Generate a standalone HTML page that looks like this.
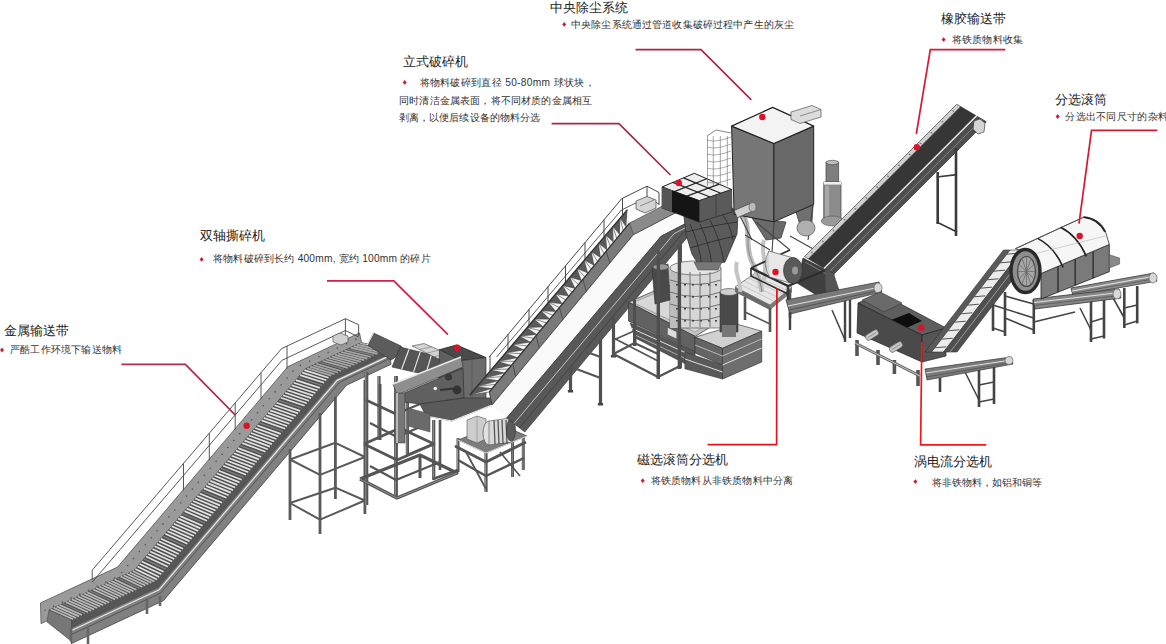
<!DOCTYPE html>
<html><head><meta charset="utf-8">
<style>
html,body{margin:0;padding:0;background:#fff;}
body{width:1166px;height:644px;overflow:hidden;position:relative;font-family:"Liberation Sans",sans-serif;}
svg{position:absolute;left:0;top:0;}
.t{font-size:13px;fill:#222;}
.s{font-size:10.2px;fill:#333;}
.b{fill:#c8203a;}
.ld{stroke-width:1.7;fill:none;}
</style></head><body>
<svg width="1166" height="644" viewBox="0 0 1166 644">
<g id="machines" stroke-linejoin="round">
<polygon points="40.5,602.9 117.5,567.1 287.9,366.6 359.5,332.9 361.5,342.5 305.5,368.8 120.2,586.8 41.0,623.6" fill="#9a9a9a" stroke="#555" stroke-width="0.8" />
<circle cx="45.1" cy="610.2" r="0.8" fill="#555"/>
<circle cx="53.7" cy="606.2" r="0.8" fill="#555"/>
<circle cx="62.4" cy="602.1" r="0.8" fill="#555"/>
<circle cx="71.1" cy="598.1" r="0.8" fill="#555"/>
<circle cx="79.7" cy="594.1" r="0.8" fill="#555"/>
<circle cx="88.4" cy="590.0" r="0.8" fill="#555"/>
<circle cx="97.1" cy="586.0" r="0.8" fill="#555"/>
<circle cx="105.7" cy="582.0" r="0.8" fill="#555"/>
<circle cx="114.4" cy="578.0" r="0.8" fill="#555"/>
<circle cx="121.7" cy="572.5" r="0.8" fill="#555"/>
<circle cx="127.6" cy="565.5" r="0.8" fill="#555"/>
<circle cx="133.5" cy="558.6" r="0.8" fill="#555"/>
<circle cx="139.4" cy="551.6" r="0.8" fill="#555"/>
<circle cx="145.3" cy="544.7" r="0.8" fill="#555"/>
<circle cx="151.2" cy="537.7" r="0.8" fill="#555"/>
<circle cx="157.1" cy="530.8" r="0.8" fill="#555"/>
<circle cx="163.0" cy="523.9" r="0.8" fill="#555"/>
<circle cx="168.9" cy="516.9" r="0.8" fill="#555"/>
<circle cx="174.8" cy="510.0" r="0.8" fill="#555"/>
<circle cx="180.7" cy="503.0" r="0.8" fill="#555"/>
<circle cx="186.6" cy="496.1" r="0.8" fill="#555"/>
<circle cx="192.5" cy="489.1" r="0.8" fill="#555"/>
<circle cx="198.4" cy="482.2" r="0.8" fill="#555"/>
<circle cx="204.3" cy="475.2" r="0.8" fill="#555"/>
<circle cx="210.2" cy="468.3" r="0.8" fill="#555"/>
<circle cx="216.1" cy="461.3" r="0.8" fill="#555"/>
<circle cx="222.0" cy="454.4" r="0.8" fill="#555"/>
<circle cx="227.9" cy="447.5" r="0.8" fill="#555"/>
<circle cx="233.8" cy="440.5" r="0.8" fill="#555"/>
<circle cx="239.7" cy="433.6" r="0.8" fill="#555"/>
<circle cx="245.6" cy="426.6" r="0.8" fill="#555"/>
<circle cx="251.6" cy="419.7" r="0.8" fill="#555"/>
<circle cx="257.5" cy="412.7" r="0.8" fill="#555"/>
<circle cx="263.4" cy="405.8" r="0.8" fill="#555"/>
<circle cx="269.3" cy="398.8" r="0.8" fill="#555"/>
<circle cx="275.2" cy="391.9" r="0.8" fill="#555"/>
<circle cx="281.1" cy="384.9" r="0.8" fill="#555"/>
<circle cx="287.0" cy="378.0" r="0.8" fill="#555"/>
<circle cx="292.9" cy="371.1" r="0.8" fill="#555"/>
<circle cx="300.4" cy="365.4" r="0.8" fill="#555"/>
<circle cx="309.7" cy="361.1" r="0.8" fill="#555"/>
<circle cx="318.9" cy="356.7" r="0.8" fill="#555"/>
<circle cx="328.1" cy="352.4" r="0.8" fill="#555"/>
<circle cx="337.3" cy="348.1" r="0.8" fill="#555"/>
<circle cx="346.6" cy="343.7" r="0.8" fill="#555"/>
<circle cx="355.8" cy="339.4" r="0.8" fill="#555"/>
<polygon points="49.0,609.9 134.3,570.3 305.5,368.8 361.5,342.5 389.0,348.5 329.6,376.4 155.9,580.7 71.5,620.0" fill="#4e4e4e" stroke="#444" stroke-width="0.6" />
<polygon points="71.5,620.0 155.9,580.7 329.6,376.4 389.0,348.5 391.0,364.3 346.6,385.2 163.4,600.7 71.5,643.5" fill="#808080" stroke="#444" stroke-width="0.8" />
<polygon points="71.5,620.0 155.9,580.7 329.6,376.4 389.0,348.5 389.7,354.0 335.5,379.5 158.5,587.7 71.5,628.2" fill="#565656" stroke="none" stroke-width="1" />
<polyline points="71.5,630.5 159.3,589.7 337.2,380.4 389.9,355.6" fill="none" stroke="#e8e8e8" stroke-width="1.2" />
<polyline points="71.5,634.5 160.5,593.1 340.1,381.9 390.2,358.3" fill="none" stroke="#444" stroke-width="0.7" />
<line x1="50.5" y1="609.2" x2="73.0" y2="619.3" stroke="#bcbcbc" stroke-width="1.7" />
<line x1="53.6" y1="607.8" x2="76.0" y2="617.9" stroke="#bcbcbc" stroke-width="1.7" />
<line x1="56.6" y1="606.4" x2="79.0" y2="616.4" stroke="#bcbcbc" stroke-width="1.7" />
<line x1="59.7" y1="605.0" x2="82.0" y2="615.0" stroke="#bcbcbc" stroke-width="1.7" />
<line x1="62.7" y1="603.5" x2="85.1" y2="613.6" stroke="#808080" stroke-width="1.3" />
<line x1="65.8" y1="602.1" x2="88.1" y2="612.2" stroke="#bcbcbc" stroke-width="1.7" />
<line x1="68.8" y1="600.7" x2="91.1" y2="610.8" stroke="#bcbcbc" stroke-width="1.7" />
<line x1="71.8" y1="599.3" x2="94.1" y2="609.4" stroke="#bcbcbc" stroke-width="1.7" />
<line x1="74.9" y1="597.9" x2="97.1" y2="608.0" stroke="#bcbcbc" stroke-width="1.7" />
<line x1="77.9" y1="596.5" x2="100.1" y2="606.6" stroke="#bcbcbc" stroke-width="1.7" />
<line x1="81.0" y1="595.0" x2="103.1" y2="605.2" stroke="#bcbcbc" stroke-width="1.7" />
<line x1="84.0" y1="593.6" x2="106.2" y2="603.8" stroke="#bcbcbc" stroke-width="1.7" />
<line x1="87.1" y1="592.2" x2="109.2" y2="602.4" stroke="#bcbcbc" stroke-width="1.7" />
<line x1="90.1" y1="590.8" x2="112.2" y2="601.0" stroke="#808080" stroke-width="1.3" />
<line x1="93.2" y1="589.4" x2="115.2" y2="599.6" stroke="#bcbcbc" stroke-width="1.7" />
<line x1="96.2" y1="588.0" x2="118.2" y2="598.2" stroke="#bcbcbc" stroke-width="1.7" />
<line x1="99.3" y1="586.5" x2="121.2" y2="596.8" stroke="#bcbcbc" stroke-width="1.7" />
<line x1="102.3" y1="585.1" x2="124.2" y2="595.4" stroke="#bcbcbc" stroke-width="1.7" />
<line x1="105.3" y1="583.7" x2="127.3" y2="594.0" stroke="#bcbcbc" stroke-width="1.7" />
<line x1="108.4" y1="582.3" x2="130.3" y2="592.6" stroke="#bcbcbc" stroke-width="1.7" />
<line x1="111.4" y1="580.9" x2="133.3" y2="591.2" stroke="#bcbcbc" stroke-width="1.7" />
<line x1="114.5" y1="579.5" x2="136.3" y2="589.8" stroke="#bcbcbc" stroke-width="1.7" />
<line x1="117.5" y1="578.0" x2="139.3" y2="588.4" stroke="#808080" stroke-width="1.3" />
<line x1="120.6" y1="576.6" x2="142.3" y2="587.0" stroke="#bcbcbc" stroke-width="1.7" />
<line x1="123.6" y1="575.2" x2="145.3" y2="585.6" stroke="#bcbcbc" stroke-width="1.7" />
<line x1="126.7" y1="573.8" x2="148.4" y2="584.2" stroke="#bcbcbc" stroke-width="1.7" />
<line x1="129.7" y1="572.4" x2="151.4" y2="582.8" stroke="#bcbcbc" stroke-width="1.7" />
<line x1="132.8" y1="571.0" x2="154.4" y2="581.4" stroke="#bcbcbc" stroke-width="1.7" />
<line x1="135.3" y1="569.0" x2="157.0" y2="579.4" stroke="#e2e2e2" stroke-width="1.7" />
<line x1="137.5" y1="566.5" x2="159.2" y2="576.9" stroke="#e2e2e2" stroke-width="1.7" />
<line x1="139.6" y1="564.0" x2="161.3" y2="574.3" stroke="#e2e2e2" stroke-width="1.7" />
<line x1="141.8" y1="561.4" x2="163.5" y2="571.8" stroke="#e2e2e2" stroke-width="1.7" />
<line x1="143.9" y1="558.9" x2="165.7" y2="569.2" stroke="#808080" stroke-width="1.3" />
<line x1="146.1" y1="556.4" x2="167.8" y2="566.7" stroke="#e2e2e2" stroke-width="1.7" />
<line x1="148.2" y1="553.9" x2="170.0" y2="564.1" stroke="#e2e2e2" stroke-width="1.7" />
<line x1="150.3" y1="551.4" x2="172.2" y2="561.6" stroke="#e2e2e2" stroke-width="1.7" />
<line x1="152.5" y1="548.9" x2="174.3" y2="559.0" stroke="#e2e2e2" stroke-width="1.7" />
<line x1="154.6" y1="546.3" x2="176.5" y2="556.4" stroke="#e2e2e2" stroke-width="1.7" />
<line x1="156.8" y1="543.8" x2="178.7" y2="553.9" stroke="#e2e2e2" stroke-width="1.7" />
<line x1="158.9" y1="541.3" x2="180.9" y2="551.3" stroke="#e2e2e2" stroke-width="1.7" />
<line x1="161.0" y1="538.8" x2="183.0" y2="548.8" stroke="#e2e2e2" stroke-width="1.7" />
<line x1="163.2" y1="536.3" x2="185.2" y2="546.2" stroke="#808080" stroke-width="1.3" />
<line x1="165.3" y1="533.7" x2="187.4" y2="543.7" stroke="#e2e2e2" stroke-width="1.7" />
<line x1="167.5" y1="531.2" x2="189.5" y2="541.1" stroke="#e2e2e2" stroke-width="1.7" />
<line x1="169.6" y1="528.7" x2="191.7" y2="538.6" stroke="#e2e2e2" stroke-width="1.7" />
<line x1="171.7" y1="526.2" x2="193.9" y2="536.0" stroke="#e2e2e2" stroke-width="1.7" />
<line x1="173.9" y1="523.7" x2="196.1" y2="533.5" stroke="#e2e2e2" stroke-width="1.7" />
<line x1="176.0" y1="521.2" x2="198.2" y2="530.9" stroke="#e2e2e2" stroke-width="1.7" />
<line x1="178.2" y1="518.6" x2="200.4" y2="528.4" stroke="#e2e2e2" stroke-width="1.7" />
<line x1="180.3" y1="516.1" x2="202.6" y2="525.8" stroke="#e2e2e2" stroke-width="1.7" />
<line x1="182.4" y1="513.6" x2="204.7" y2="523.2" stroke="#808080" stroke-width="1.3" />
<line x1="184.6" y1="511.1" x2="206.9" y2="520.7" stroke="#e2e2e2" stroke-width="1.7" />
<line x1="186.7" y1="508.6" x2="209.1" y2="518.1" stroke="#e2e2e2" stroke-width="1.7" />
<line x1="188.9" y1="506.0" x2="211.3" y2="515.6" stroke="#e2e2e2" stroke-width="1.7" />
<line x1="191.0" y1="503.5" x2="213.4" y2="513.0" stroke="#e2e2e2" stroke-width="1.7" />
<line x1="193.1" y1="501.0" x2="215.6" y2="510.5" stroke="#e2e2e2" stroke-width="1.7" />
<line x1="195.3" y1="498.5" x2="217.8" y2="507.9" stroke="#e2e2e2" stroke-width="1.7" />
<line x1="197.4" y1="496.0" x2="219.9" y2="505.4" stroke="#e2e2e2" stroke-width="1.7" />
<line x1="199.6" y1="493.5" x2="222.1" y2="502.8" stroke="#e2e2e2" stroke-width="1.7" />
<line x1="201.7" y1="490.9" x2="224.3" y2="500.3" stroke="#808080" stroke-width="1.3" />
<line x1="203.8" y1="488.4" x2="226.4" y2="497.7" stroke="#e2e2e2" stroke-width="1.7" />
<line x1="206.0" y1="485.9" x2="228.6" y2="495.2" stroke="#e2e2e2" stroke-width="1.7" />
<line x1="208.1" y1="483.4" x2="230.8" y2="492.6" stroke="#e2e2e2" stroke-width="1.7" />
<line x1="210.3" y1="480.9" x2="233.0" y2="490.1" stroke="#e2e2e2" stroke-width="1.7" />
<line x1="212.4" y1="478.3" x2="235.1" y2="487.5" stroke="#e2e2e2" stroke-width="1.7" />
<line x1="214.5" y1="475.8" x2="237.3" y2="484.9" stroke="#e2e2e2" stroke-width="1.7" />
<line x1="216.7" y1="473.3" x2="239.5" y2="482.4" stroke="#e2e2e2" stroke-width="1.7" />
<line x1="218.8" y1="470.8" x2="241.6" y2="479.8" stroke="#e2e2e2" stroke-width="1.7" />
<line x1="221.0" y1="468.3" x2="243.8" y2="477.3" stroke="#808080" stroke-width="1.3" />
<line x1="223.1" y1="465.8" x2="246.0" y2="474.7" stroke="#e2e2e2" stroke-width="1.7" />
<line x1="225.2" y1="463.2" x2="248.2" y2="472.2" stroke="#e2e2e2" stroke-width="1.7" />
<line x1="227.4" y1="460.7" x2="250.3" y2="469.6" stroke="#e2e2e2" stroke-width="1.7" />
<line x1="229.5" y1="458.2" x2="252.5" y2="467.1" stroke="#e2e2e2" stroke-width="1.7" />
<line x1="231.7" y1="455.7" x2="254.7" y2="464.5" stroke="#e2e2e2" stroke-width="1.7" />
<line x1="233.8" y1="453.2" x2="256.8" y2="462.0" stroke="#e2e2e2" stroke-width="1.7" />
<line x1="235.9" y1="450.6" x2="259.0" y2="459.4" stroke="#e2e2e2" stroke-width="1.7" />
<line x1="238.1" y1="448.1" x2="261.2" y2="456.9" stroke="#e2e2e2" stroke-width="1.7" />
<line x1="240.2" y1="445.6" x2="263.3" y2="454.3" stroke="#808080" stroke-width="1.3" />
<line x1="242.4" y1="443.1" x2="265.5" y2="451.7" stroke="#e2e2e2" stroke-width="1.7" />
<line x1="244.5" y1="440.6" x2="267.7" y2="449.2" stroke="#e2e2e2" stroke-width="1.7" />
<line x1="246.7" y1="438.1" x2="269.9" y2="446.6" stroke="#e2e2e2" stroke-width="1.7" />
<line x1="248.8" y1="435.5" x2="272.0" y2="444.1" stroke="#e2e2e2" stroke-width="1.7" />
<line x1="250.9" y1="433.0" x2="274.2" y2="441.5" stroke="#e2e2e2" stroke-width="1.7" />
<line x1="253.1" y1="430.5" x2="276.4" y2="439.0" stroke="#e2e2e2" stroke-width="1.7" />
<line x1="255.2" y1="428.0" x2="278.5" y2="436.4" stroke="#e2e2e2" stroke-width="1.7" />
<line x1="257.4" y1="425.5" x2="280.7" y2="433.9" stroke="#e2e2e2" stroke-width="1.7" />
<line x1="259.5" y1="422.9" x2="282.9" y2="431.3" stroke="#808080" stroke-width="1.3" />
<line x1="261.6" y1="420.4" x2="285.1" y2="428.8" stroke="#e2e2e2" stroke-width="1.7" />
<line x1="263.8" y1="417.9" x2="287.2" y2="426.2" stroke="#e2e2e2" stroke-width="1.7" />
<line x1="265.9" y1="415.4" x2="289.4" y2="423.7" stroke="#e2e2e2" stroke-width="1.7" />
<line x1="268.1" y1="412.9" x2="291.6" y2="421.1" stroke="#e2e2e2" stroke-width="1.7" />
<line x1="270.2" y1="410.4" x2="293.7" y2="418.5" stroke="#e2e2e2" stroke-width="1.7" />
<line x1="272.3" y1="407.8" x2="295.9" y2="416.0" stroke="#e2e2e2" stroke-width="1.7" />
<line x1="274.5" y1="405.3" x2="298.1" y2="413.4" stroke="#e2e2e2" stroke-width="1.7" />
<line x1="276.6" y1="402.8" x2="300.2" y2="410.9" stroke="#e2e2e2" stroke-width="1.7" />
<line x1="278.8" y1="400.3" x2="302.4" y2="408.3" stroke="#808080" stroke-width="1.3" />
<line x1="280.9" y1="397.8" x2="304.6" y2="405.8" stroke="#e2e2e2" stroke-width="1.7" />
<line x1="283.0" y1="395.2" x2="306.8" y2="403.2" stroke="#e2e2e2" stroke-width="1.7" />
<line x1="285.2" y1="392.7" x2="308.9" y2="400.7" stroke="#e2e2e2" stroke-width="1.7" />
<line x1="287.3" y1="390.2" x2="311.1" y2="398.1" stroke="#e2e2e2" stroke-width="1.7" />
<line x1="289.5" y1="387.7" x2="313.3" y2="395.6" stroke="#e2e2e2" stroke-width="1.7" />
<line x1="291.6" y1="385.2" x2="315.4" y2="393.0" stroke="#e2e2e2" stroke-width="1.7" />
<line x1="293.7" y1="382.7" x2="317.6" y2="390.5" stroke="#e2e2e2" stroke-width="1.7" />
<line x1="295.9" y1="380.1" x2="319.8" y2="387.9" stroke="#e2e2e2" stroke-width="1.7" />
<line x1="298.0" y1="377.6" x2="322.0" y2="385.3" stroke="#808080" stroke-width="1.3" />
<line x1="300.2" y1="375.1" x2="324.1" y2="382.8" stroke="#e2e2e2" stroke-width="1.7" />
<line x1="302.3" y1="372.6" x2="326.3" y2="380.2" stroke="#e2e2e2" stroke-width="1.7" />
<line x1="304.4" y1="370.1" x2="328.5" y2="377.7" stroke="#e2e2e2" stroke-width="1.7" />
<line x1="307.1" y1="368.1" x2="331.2" y2="375.6" stroke="#ababab" stroke-width="1.7" />
<line x1="310.2" y1="366.6" x2="334.5" y2="374.1" stroke="#ababab" stroke-width="1.7" />
<line x1="313.3" y1="365.2" x2="337.8" y2="372.5" stroke="#ababab" stroke-width="1.7" />
<line x1="316.4" y1="363.7" x2="341.1" y2="371.0" stroke="#ababab" stroke-width="1.7" />
<line x1="319.5" y1="362.2" x2="344.4" y2="369.4" stroke="#808080" stroke-width="1.3" />
<line x1="322.6" y1="360.8" x2="347.7" y2="367.9" stroke="#ababab" stroke-width="1.7" />
<line x1="325.7" y1="359.3" x2="351.0" y2="366.3" stroke="#ababab" stroke-width="1.7" />
<line x1="328.8" y1="357.8" x2="354.3" y2="364.8" stroke="#ababab" stroke-width="1.7" />
<line x1="332.0" y1="356.4" x2="357.6" y2="363.2" stroke="#ababab" stroke-width="1.7" />
<line x1="335.1" y1="354.9" x2="360.9" y2="361.7" stroke="#ababab" stroke-width="1.7" />
<line x1="338.2" y1="353.5" x2="364.2" y2="360.1" stroke="#ababab" stroke-width="1.7" />
<line x1="341.3" y1="352.0" x2="367.5" y2="358.6" stroke="#ababab" stroke-width="1.7" />
<line x1="344.4" y1="350.5" x2="370.8" y2="357.0" stroke="#ababab" stroke-width="1.7" />
<line x1="347.5" y1="349.1" x2="374.1" y2="355.5" stroke="#808080" stroke-width="1.3" />
<line x1="350.6" y1="347.6" x2="377.4" y2="353.9" stroke="#ababab" stroke-width="1.7" />
<line x1="353.7" y1="346.1" x2="380.7" y2="352.4" stroke="#ababab" stroke-width="1.7" />
<line x1="356.8" y1="344.7" x2="384.0" y2="350.8" stroke="#ababab" stroke-width="1.7" />
<line x1="359.9" y1="343.2" x2="387.3" y2="349.2" stroke="#ababab" stroke-width="1.7" />
<polygon points="49.0,609.9 71.5,620.0 71.5,643.5 70.5,640.5 47.0,621.9" fill="#777" stroke="#444" stroke-width="0.6" />
<polyline points="92.2,570.2 281.6,348.6 345.4,318.7 358.6,324.7 358.6,336.0" fill="none" stroke="#444" stroke-width="0.9" />
<polyline points="92.2,582.2 282.0,360.3 345.4,330.5 358.6,337.0" fill="none" stroke="#444" stroke-width="0.9" />
<line x1="92.2" y1="570.2" x2="92.2" y2="579.8" stroke="#444" stroke-width="0.9" />
<line x1="183.5" y1="463.4" x2="183.5" y2="490.4" stroke="#444" stroke-width="0.9" />
<line x1="209.3" y1="433.2" x2="209.3" y2="460.1" stroke="#444" stroke-width="0.9" />
<line x1="235.2" y1="402.9" x2="235.2" y2="429.6" stroke="#444" stroke-width="0.9" />
<line x1="261.0" y1="372.7" x2="261.0" y2="399.2" stroke="#444" stroke-width="0.9" />
<line x1="287.0" y1="346.1" x2="287.0" y2="368.6" stroke="#444" stroke-width="0.9" />
<line x1="345.4" y1="318.7" x2="345.4" y2="340.6" stroke="#444" stroke-width="0.9" />
<polygon points="333.0,336.0 340.0,333.0 348.0,336.0 348.0,342.0 341.0,345.0 333.0,342.0" fill="#d0d0d0" stroke="#444" stroke-width="0.6" />
<rect x="69.7" y="628" width="2.6" height="13" fill="#666"/>
<rect x="86.7" y="628" width="2.6" height="16" fill="#666"/>
<rect x="145.7" y="600" width="2.6" height="14" fill="#666"/>
<rect x="158.7" y="596" width="2.6" height="10" fill="#666"/>
<rect x="288.6" y="449" width="2.8" height="71" fill="#5a5a5a"/>
<rect x="318.6" y="413" width="2.8" height="121" fill="#5a5a5a"/>
<rect x="334.0" y="396.7" width="2.8" height="102.30000000000001" fill="#5a5a5a"/>
<rect x="363.5" y="380" width="2.8" height="134" fill="#5a5a5a"/>
<polyline points="290.0,459.5 320.0,474.9 364.9,457.0 335.4,442.8 290.0,459.5" fill="none" stroke="#5a5a5a" stroke-width="2" />
<polyline points="290.0,503.0 320.0,519.7 364.9,500.5 335.4,487.7 290.0,503.0" fill="none" stroke="#5a5a5a" stroke-width="2" />
<rect x="364.7" y="372" width="3.6" height="133" fill="#555"/>
<rect x="365.5" y="372" width="0.7" height="133" fill="#aaa"/>
<rect x="377.4" y="376" width="3.2" height="64" fill="#555"/>
<rect x="378.2" y="376" width="0.7" height="64" fill="#aaa"/>
<rect x="394.1" y="376" width="3.8" height="122" fill="#555"/>
<rect x="394.90000000000003" y="376" width="0.7" height="122" fill="#aaa"/>
<rect x="405.79999999999995" y="400" width="3.2" height="55" fill="#555"/>
<rect x="406.59999999999997" y="400" width="0.7" height="55" fill="#aaa"/>
<rect x="432.09999999999997" y="420" width="3.2" height="60" fill="#555"/>
<rect x="432.9" y="420" width="0.7" height="60" fill="#aaa"/>
<rect x="456.5" y="438" width="3" height="34" fill="#555"/>
<rect x="457.3" y="438" width="0.7" height="34" fill="#aaa"/>
<rect x="484.4" y="440" width="3.2" height="52" fill="#555"/>
<rect x="485.2" y="440" width="0.7" height="52" fill="#aaa"/>
<rect x="511.0" y="440" width="3" height="37" fill="#555"/>
<rect x="511.8" y="440" width="0.7" height="37" fill="#aaa"/>
<rect x="521.8" y="436" width="3" height="34" fill="#555"/>
<rect x="522.5999999999999" y="436" width="0.7" height="34" fill="#aaa"/>
<polyline points="360.0,479.0 397.0,498.0 457.0,473.0 420.0,455.0 360.0,479.0" fill="none" stroke="#555" stroke-width="3.2" />
<polyline points="360.0,479.0 397.0,498.0 457.0,473.0" fill="none" stroke="#bbb" stroke-width="0.6" />
<polyline points="364.0,444.0 397.0,460.0 434.0,444.0 400.0,428.0 364.0,444.0" fill="none" stroke="#555" stroke-width="2.8" />
<polyline points="370.0,423.0 397.0,437.0 420.0,427.0" fill="none" stroke="#555" stroke-width="2.4" />
<line x1="366.0" y1="400.0" x2="396.0" y2="414.0" stroke="#555" stroke-width="2.6" />
<line x1="396.0" y1="414.0" x2="420.0" y2="404.0" stroke="#555" stroke-width="2.4" />
<line x1="380.0" y1="384.0" x2="380.0" y2="440.0" stroke="#555" stroke-width="3" />
<line x1="407.0" y1="455.0" x2="433.0" y2="444.0" stroke="#555" stroke-width="2.4" />
<line x1="433.0" y1="479.0" x2="458.0" y2="470.0" stroke="#555" stroke-width="2.6" />
<line x1="420.0" y1="455.0" x2="420.0" y2="478.0" stroke="#555" stroke-width="3" />
<line x1="440.0" y1="420.0" x2="440.0" y2="470.0" stroke="#555" stroke-width="2.6" />
<line x1="370.0" y1="466.0" x2="396.0" y2="480.0" stroke="#555" stroke-width="2.2" />
<line x1="396.0" y1="480.0" x2="440.0" y2="462.0" stroke="#555" stroke-width="2.2" />
<polyline points="455.0,446.0 486.0,462.0 526.0,442.0" fill="none" stroke="#555" stroke-width="3" />
<polyline points="458.0,460.0 486.0,476.0 524.0,458.0" fill="none" stroke="#555" stroke-width="2.4" />
<line x1="466.0" y1="452.0" x2="486.0" y2="489.0" stroke="#555" stroke-width="1.8" />
<line x1="500.0" y1="452.0" x2="520.0" y2="476.0" stroke="#555" stroke-width="1.6" />
<polygon points="373.5,333.0 367.3,345.0 391.0,360.0 404.5,351.0 401.0,346.0" fill="#5c5c5c" stroke="#333" stroke-width="0.7" />
<line x1="373.5" y1="333.0" x2="367.3" y2="345.0" stroke="#eee" stroke-width="1" />
<polygon points="400.0,347.0 445.0,358.0 440.0,378.0 392.0,367.0" fill="#555" stroke="#333" stroke-width="0.6" />
<line x1="409.0" y1="349.2" x2="401.6" y2="369.2" stroke="#eee" stroke-width="1.1" />
<line x1="420.2" y1="351.9" x2="413.6" y2="371.9" stroke="#eee" stroke-width="1.1" />
<line x1="431.5" y1="354.7" x2="425.6" y2="374.7" stroke="#eee" stroke-width="1.1" />
<line x1="441.4" y1="357.1" x2="436.2" y2="377.1" stroke="#eee" stroke-width="1.1" />
<polygon points="412.0,346.0 424.0,343.5 462.0,360.0 449.0,364.0" fill="#d4d4d4" stroke="#444" stroke-width="0.6" />
<line x1="419.4" y1="349.6" x2="431.6" y2="346.8" stroke="#777" stroke-width="0.6" />
<line x1="426.8" y1="353.2" x2="439.2" y2="350.1" stroke="#777" stroke-width="0.6" />
<line x1="434.2" y1="356.8" x2="446.8" y2="353.4" stroke="#777" stroke-width="0.6" />
<line x1="441.6" y1="360.4" x2="454.4" y2="356.7" stroke="#777" stroke-width="0.6" />
<polygon points="439.4,349.7 456.5,345.0 486.0,357.5 461.2,360.6" fill="#4a4a4a" stroke="#222" stroke-width="0.8" />
<polygon points="439.4,349.7 461.2,360.6 461.2,406.0 439.4,398.0" fill="#606060" stroke="#333" stroke-width="0.7" />
<polygon points="461.2,360.6 486.0,357.5 486.0,399.4 461.2,406.0" fill="#6c6c6c" stroke="#333" stroke-width="0.7" />
<line x1="472.0" y1="359.0" x2="472.0" y2="403.0" stroke="#555" stroke-width="0.7" />
<polygon points="393.0,384.0 461.0,357.0 463.0,367.0 397.0,395.0" fill="#8e8e8e" stroke="#333" stroke-width="0.6" />
<line x1="393.0" y1="384.0" x2="461.0" y2="357.0" stroke="#ececec" stroke-width="1.4" />
<polygon points="402.0,394.0 463.0,368.0 464.0,398.0 420.0,404.0 404.0,402.0" fill="#606060" stroke="#333" stroke-width="0.7" />
<circle cx="448.5" cy="377" r="3.6" fill="#3a3a3a"/><circle cx="457" cy="390" r="4.4" fill="#333"/><circle cx="435.3" cy="388.5" r="1.8" fill="#eee"/>
<line x1="440.0" y1="390.0" x2="458.0" y2="388.0" stroke="#333" stroke-width="2" />
<rect x="395" y="393" width="10" height="50" fill="#767676" stroke="#333" stroke-width="0.5"/>
<rect x="396" y="393" width="2" height="50" fill="#bbb"/>
<polygon points="420.0,404.0 464.0,398.0 490.0,398.0 492.0,405.0 452.0,421.0 426.0,416.0" fill="#5a5a5a" stroke="#333" stroke-width="0.7" />
<line x1="426.0" y1="416.0" x2="452.0" y2="421.0" stroke="#eee" stroke-width="1.2" />
<line x1="452.0" y1="421.0" x2="492.0" y2="405.0" stroke="#eee" stroke-width="1.2" />
<polygon points="408.0,408.0 430.0,414.0 430.0,432.0 408.0,426.0" fill="#6a6a6a" stroke="#444" stroke-width="0.5" />
<polygon points="458.0,440.0 486.0,453.0 527.0,436.0 499.0,424.0" fill="#7c7c7c" stroke="#444" stroke-width="0.7" />
<line x1="458.0" y1="440.0" x2="486.0" y2="453.0" stroke="#ddd" stroke-width="1" />
<line x1="486.0" y1="453.0" x2="527.0" y2="436.0" stroke="#ddd" stroke-width="1" />
<polygon points="467.0,420.0 477.0,416.0 486.0,419.0 486.0,439.0 477.0,443.0 467.0,439.0" fill="#cdcdcd" stroke="#555" stroke-width="0.6" />
<line x1="477.0" y1="416.0" x2="477.0" y2="443.0" stroke="#888" stroke-width="0.6" />
<ellipse cx="489" cy="433" rx="6" ry="12" fill="#e0e0e0" stroke="#555" stroke-width="0.7"/>
<polygon points="489.0,421.0 510.0,418.0 512.0,442.0 489.0,445.0" fill="#d8d8d8" stroke="#555" stroke-width="0.6" />
<line x1="494.0" y1="420.0" x2="495.0" y2="444.0" stroke="#555" stroke-width="1.3" />
<line x1="498.0" y1="420.0" x2="499.0" y2="444.0" stroke="#555" stroke-width="1.3" />
<line x1="502.0" y1="420.0" x2="503.0" y2="444.0" stroke="#555" stroke-width="1.3" />
<line x1="506.0" y1="420.0" x2="507.0" y2="444.0" stroke="#555" stroke-width="1.3" />
<ellipse cx="511" cy="430" rx="4.5" ry="11" fill="#5a5a5a" stroke="#333" stroke-width="0.6"/>
<polygon points="489.3,392.0 629.5,223.1 685.0,207.8 633.5,234.6 492.1,405.0" fill="#7a7a7a" stroke="#333" stroke-width="0.9" />
<polygon points="492.1,405.0 633.5,234.6 685.0,207.8 690.0,221.3 661.2,236.2 506.7,418.0" fill="#fafafa" stroke="none" stroke-width="1" />
<polyline points="492.1,405.0 633.5,234.6 685.0,207.8" fill="none" stroke="#444" stroke-width="0.8" />
<polyline points="506.7,418.0 661.2,236.2 690.0,221.3" fill="none" stroke="#444" stroke-width="0.8" />
<polygon points="506.7,418.0 661.2,236.2 690.0,221.3 698.0,227.5 693.7,229.7 524.8,432.0" fill="#585858" stroke="#333" stroke-width="0.6" />
<polyline points="513.9,423.6 674.2,233.6 693.2,223.7" fill="none" stroke="#cfcfcf" stroke-width="0.9" />
<polyline points="519.4,427.8 683.9,231.7 695.6,225.6" fill="none" stroke="#333" stroke-width="0.6" />
<polygon points="629.5,223.1 674.0,200.0 685.0,207.8 633.5,234.6" fill="#8a8a8a" stroke="#444" stroke-width="0.6" />
<polygon points="469.8,395.0 627.4,209.6 629.5,223.1 489.3,392.0" fill="#f4f4f4" stroke="none" stroke-width="1" />
<polygon points="469.8,395.0 476.9,386.6 492.5,388.2" fill="#5a5a5a" stroke="none" stroke-width="1" />
<polygon points="489.3,392.0 492.5,388.2 469.8,395.0" fill="none" stroke="#444" stroke-width="0.6" />
<polygon points="476.9,386.6 484.1,378.1 498.9,380.5" fill="#5a5a5a" stroke="none" stroke-width="1" />
<polygon points="495.7,384.3 498.9,380.5 476.9,386.6" fill="none" stroke="#444" stroke-width="0.6" />
<polygon points="484.1,378.1 491.2,369.7 505.3,372.8" fill="#5a5a5a" stroke="none" stroke-width="1" />
<polygon points="502.1,376.6 505.3,372.8 484.1,378.1" fill="none" stroke="#444" stroke-width="0.6" />
<polygon points="491.2,369.7 498.4,361.3 511.6,365.1" fill="#5a5a5a" stroke="none" stroke-width="1" />
<polygon points="508.5,369.0 511.6,365.1 491.2,369.7" fill="none" stroke="#444" stroke-width="0.6" />
<polygon points="498.4,361.3 505.6,352.9 518.0,357.5" fill="#5a5a5a" stroke="none" stroke-width="1" />
<polygon points="514.8,361.3 518.0,357.5 498.4,361.3" fill="none" stroke="#444" stroke-width="0.6" />
<polygon points="505.6,352.9 512.7,344.4 524.4,349.8" fill="#5a5a5a" stroke="none" stroke-width="1" />
<polygon points="521.2,353.6 524.4,349.8 505.6,352.9" fill="none" stroke="#444" stroke-width="0.6" />
<polygon points="512.7,344.4 519.9,336.0 530.7,342.1" fill="#5a5a5a" stroke="none" stroke-width="1" />
<polygon points="527.6,345.9 530.7,342.1 512.7,344.4" fill="none" stroke="#444" stroke-width="0.6" />
<polygon points="519.9,336.0 527.1,327.6 537.1,334.4" fill="#5a5a5a" stroke="none" stroke-width="1" />
<polygon points="533.9,338.3 537.1,334.4 519.9,336.0" fill="none" stroke="#444" stroke-width="0.6" />
<polygon points="527.1,327.6 534.2,319.1 543.5,326.8" fill="#5a5a5a" stroke="none" stroke-width="1" />
<polygon points="540.3,330.6 543.5,326.8 527.1,327.6" fill="none" stroke="#444" stroke-width="0.6" />
<polygon points="534.2,319.1 541.4,310.7 549.9,319.1" fill="#5a5a5a" stroke="none" stroke-width="1" />
<polygon points="546.7,322.9 549.9,319.1 534.2,319.1" fill="none" stroke="#444" stroke-width="0.6" />
<polygon points="541.4,310.7 548.6,302.3 556.2,311.4" fill="#5a5a5a" stroke="none" stroke-width="1" />
<polygon points="553.0,315.2 556.2,311.4 541.4,310.7" fill="none" stroke="#444" stroke-width="0.6" />
<polygon points="548.6,302.3 555.7,293.9 562.6,303.7" fill="#5a5a5a" stroke="none" stroke-width="1" />
<polygon points="559.4,307.6 562.6,303.7 548.6,302.3" fill="none" stroke="#444" stroke-width="0.6" />
<polygon points="555.7,293.9 562.9,285.4 569.0,296.1" fill="#5a5a5a" stroke="none" stroke-width="1" />
<polygon points="565.8,299.9 569.0,296.1 555.7,293.9" fill="none" stroke="#444" stroke-width="0.6" />
<polygon points="562.9,285.4 570.1,277.0 575.3,288.4" fill="#5a5a5a" stroke="none" stroke-width="1" />
<polygon points="572.2,292.2 575.3,288.4 562.9,285.4" fill="none" stroke="#444" stroke-width="0.6" />
<polygon points="570.1,277.0 577.2,268.6 581.7,280.7" fill="#5a5a5a" stroke="none" stroke-width="1" />
<polygon points="578.5,284.5 581.7,280.7 570.1,277.0" fill="none" stroke="#444" stroke-width="0.6" />
<polygon points="577.2,268.6 584.4,260.1 588.1,273.0" fill="#5a5a5a" stroke="none" stroke-width="1" />
<polygon points="584.9,276.9 588.1,273.0 577.2,268.6" fill="none" stroke="#444" stroke-width="0.6" />
<polygon points="584.4,260.1 591.5,251.7 594.5,265.4" fill="#5a5a5a" stroke="none" stroke-width="1" />
<polygon points="591.3,269.2 594.5,265.4 584.4,260.1" fill="none" stroke="#444" stroke-width="0.6" />
<polygon points="591.5,251.7 598.7,243.3 600.8,257.7" fill="#5a5a5a" stroke="none" stroke-width="1" />
<polygon points="597.6,261.5 600.8,257.7 591.5,251.7" fill="none" stroke="#444" stroke-width="0.6" />
<polygon points="598.7,243.3 605.9,234.9 607.2,250.0" fill="#5a5a5a" stroke="none" stroke-width="1" />
<polygon points="604.0,253.8 607.2,250.0 598.7,243.3" fill="none" stroke="#444" stroke-width="0.6" />
<polygon points="605.9,234.9 613.0,226.4 613.6,242.3" fill="#5a5a5a" stroke="none" stroke-width="1" />
<polygon points="610.4,246.2 613.6,242.3 605.9,234.9" fill="none" stroke="#444" stroke-width="0.6" />
<polygon points="613.0,226.4 620.2,218.0 619.9,234.7" fill="#5a5a5a" stroke="none" stroke-width="1" />
<polygon points="616.7,238.5 619.9,234.7 613.0,226.4" fill="none" stroke="#444" stroke-width="0.6" />
<polygon points="620.2,218.0 627.4,209.6 626.3,227.0" fill="#5a5a5a" stroke="none" stroke-width="1" />
<polygon points="623.1,230.8 626.3,227.0 620.2,218.0" fill="none" stroke="#444" stroke-width="0.6" />
<polyline points="469.8,395.0 627.4,209.6" fill="none" stroke="#333" stroke-width="1.4" />
<polyline points="489.3,392.0 629.5,223.1" fill="none" stroke="#333" stroke-width="1.2" />
<line x1="512.7" y1="363.9" x2="515.6" y2="376.6" stroke="#444" stroke-width="0.8" />
<line x1="536.1" y1="335.7" x2="539.2" y2="348.2" stroke="#444" stroke-width="0.8" />
<line x1="559.4" y1="307.6" x2="562.8" y2="319.8" stroke="#444" stroke-width="0.8" />
<line x1="582.8" y1="279.4" x2="586.3" y2="291.4" stroke="#444" stroke-width="0.8" />
<line x1="606.1" y1="251.3" x2="609.9" y2="263.0" stroke="#444" stroke-width="0.8" />
<polyline points="489.2,357.0 621.8,198.6 647.0,186.2 659.0,192.5 659.0,205.0" fill="none" stroke="#333" stroke-width="0.9" />
<polyline points="496.6,357.0 621.5,210.0 647.0,197.5 659.0,204.0" fill="none" stroke="#333" stroke-width="0.8" />
<line x1="490.0" y1="356.0" x2="490.0" y2="371.2" stroke="#333" stroke-width="0.9" />
<line x1="508.0" y1="334.5" x2="508.0" y2="350.0" stroke="#333" stroke-width="0.9" />
<line x1="529.0" y1="309.4" x2="529.0" y2="325.3" stroke="#333" stroke-width="0.9" />
<line x1="548.0" y1="286.7" x2="548.0" y2="302.9" stroke="#333" stroke-width="0.9" />
<line x1="565.5" y1="265.8" x2="565.5" y2="282.4" stroke="#333" stroke-width="0.9" />
<line x1="585.0" y1="242.5" x2="585.0" y2="259.4" stroke="#333" stroke-width="0.9" />
<line x1="604.0" y1="219.8" x2="604.0" y2="237.1" stroke="#333" stroke-width="0.9" />
<line x1="622.5" y1="198.2" x2="622.5" y2="215.3" stroke="#333" stroke-width="0.9" />
<line x1="647.0" y1="186.2" x2="647.0" y2="200.2" stroke="#333" stroke-width="0.9" />
<polygon points="636.0,201.0 647.0,196.5 656.0,200.0 656.0,208.0 645.0,213.0 636.0,209.0" fill="#d4d4d4" stroke="#444" stroke-width="0.7" />
<line x1="640.0" y1="206.0" x2="654.0" y2="200.0" stroke="#777" stroke-width="0.8" />
<rect x="568.9" y="366" width="3.2" height="26" fill="#505050"/>
<rect x="567.9" y="390" width="5.2" height="2.5" fill="#444"/>
<rect x="598.9" y="340" width="3.2" height="65" fill="#505050"/>
<rect x="597.9" y="403" width="5.2" height="2.5" fill="#444"/>
<rect x="611.9" y="318" width="3.2" height="39" fill="#505050"/>
<rect x="610.9" y="355" width="5.2" height="2.5" fill="#444"/>
<line x1="571.0" y1="367.0" x2="600.5" y2="378.0" stroke="#555" stroke-width="2" />
<line x1="584.0" y1="351.0" x2="600.5" y2="357.0" stroke="#555" stroke-width="2" />
<line x1="613.5" y1="340.0" x2="634.0" y2="331.0" stroke="#555" stroke-width="1.8" />
<rect x="633.5" y="308" width="3" height="38" fill="#555"/>
<rect x="656.9" y="250" width="3" height="128" fill="#555"/>
<rect x="679.0" y="240" width="3" height="128" fill="#555"/>
<polygon points="628.5,302.2 668.0,285.0 735.0,312.0 695.1,336.4" fill="#c4c4c4" stroke="#444" stroke-width="0.8" />
<polygon points="633.0,302.5 668.0,288.0 728.0,312.0 695.0,332.0" fill="#d8d8d8" stroke="#777" stroke-width="0.5" />
<polygon points="628.5,302.2 695.1,336.4 695.1,351.7 628.5,321.0" fill="#626262" stroke="#333" stroke-width="0.7" />
<polygon points="667.8,327.8 676.4,332.0 676.4,338.6 667.8,334.4" fill="#ddd" stroke="none" stroke-width="1" />
<polygon points="630.2,323.0 695.0,352.0 695.0,368.8 635.4,338.0" fill="#575757" stroke="#333" stroke-width="0.6" />
<line x1="631.0" y1="328.0" x2="695.0" y2="357.0" stroke="#e2e2e2" stroke-width="1" />
<line x1="633.0" y1="334.0" x2="695.0" y2="363.0" stroke="#bbb" stroke-width="0.8" />
<rect x="670" y="268" width="51" height="60" fill="#d6d6d6" stroke="#555" stroke-width="0.7"/>
<rect x="670" y="268" width="8" height="60" fill="#bdbdbd"/>
<ellipse cx="695.5" cy="268" rx="25.5" ry="7" fill="#e6e6e6" stroke="#555" stroke-width="0.7"/>
<path d="M670,280 Q695.5,289 721,280" fill="none" stroke="#666" stroke-width="0.9"/>
<path d="M670,292 Q695.5,301 721,292" fill="none" stroke="#666" stroke-width="0.9"/>
<path d="M670,304 Q695.5,313 721,304" fill="none" stroke="#666" stroke-width="0.9"/>
<path d="M670,316 Q695.5,325 721,316" fill="none" stroke="#666" stroke-width="0.9"/>
<rect x="676" y="284" width="2" height="1.6" fill="#444"/>
<rect x="676" y="296" width="2" height="1.6" fill="#444"/>
<rect x="676" y="308" width="2" height="1.6" fill="#444"/>
<rect x="676" y="320" width="2" height="1.6" fill="#444"/>
<rect x="684" y="284" width="2" height="1.6" fill="#444"/>
<rect x="684" y="296" width="2" height="1.6" fill="#444"/>
<rect x="684" y="308" width="2" height="1.6" fill="#444"/>
<rect x="684" y="320" width="2" height="1.6" fill="#444"/>
<rect x="692" y="284" width="2" height="1.6" fill="#444"/>
<rect x="692" y="296" width="2" height="1.6" fill="#444"/>
<rect x="692" y="308" width="2" height="1.6" fill="#444"/>
<rect x="692" y="320" width="2" height="1.6" fill="#444"/>
<rect x="700" y="284" width="2" height="1.6" fill="#444"/>
<rect x="700" y="296" width="2" height="1.6" fill="#444"/>
<rect x="700" y="308" width="2" height="1.6" fill="#444"/>
<rect x="700" y="320" width="2" height="1.6" fill="#444"/>
<rect x="708" y="284" width="2" height="1.6" fill="#444"/>
<rect x="708" y="296" width="2" height="1.6" fill="#444"/>
<rect x="708" y="308" width="2" height="1.6" fill="#444"/>
<rect x="708" y="320" width="2" height="1.6" fill="#444"/>
<rect x="715" y="284" width="2" height="1.6" fill="#444"/>
<rect x="715" y="296" width="2" height="1.6" fill="#444"/>
<rect x="715" y="308" width="2" height="1.6" fill="#444"/>
<rect x="715" y="320" width="2" height="1.6" fill="#444"/>
<line x1="680.0" y1="272.0" x2="680.0" y2="327.0" stroke="#666" stroke-width="0.9" />
<line x1="690.0" y1="272.0" x2="690.0" y2="327.0" stroke="#666" stroke-width="0.9" />
<line x1="700.0" y1="272.0" x2="700.0" y2="327.0" stroke="#666" stroke-width="0.9" />
<line x1="710.0" y1="272.0" x2="710.0" y2="327.0" stroke="#666" stroke-width="0.9" />
<rect x="633.0" y="300" width="3" height="46" fill="#4e4e4e"/>
<polyline points="613.5,354.0 658.0,377.0 680.0,366.0" fill="none" stroke="#555" stroke-width="2.4" />
<polyline points="613.5,354.0 634.5,343.0 658.0,354.0" fill="none" stroke="#555" stroke-width="2" />
<polyline points="613.5,338.0 658.0,361.0" fill="none" stroke="#555" stroke-width="1.8" />
<polygon points="652.0,268.0 668.0,264.0 670.0,300.0 655.0,304.0" fill="#4a4a4a" stroke="#333" stroke-width="0.6" />
<ellipse cx="661" cy="267" rx="8" ry="3" fill="#999" stroke="#444" stroke-width="0.5"/>
<rect x="656.5999999999999" y="257" width="3.4" height="122" fill="#4e4e4e"/>
<rect x="677.6999999999999" y="245" width="3.4" height="124" fill="#4e4e4e"/>
<polygon points="695.1,337.2 737.8,324.4 761.7,331.2 722.5,348.3" fill="#d0d0d0" stroke="#444" stroke-width="0.7" />
<polygon points="695.1,337.2 722.5,348.3 722.5,365.0 695.1,353.0" fill="#646464" stroke="#333" stroke-width="0.7" />
<polygon points="684.9,352.0 722.5,365.0 722.5,379.0 684.9,368.8" fill="#5a5a5a" stroke="#333" stroke-width="0.6" />
<polygon points="722.5,348.3 761.7,331.2 761.7,362.0 722.5,379.0" fill="#6e6e6e" stroke="#333" stroke-width="0.7" />
<line x1="685.0" y1="359.0" x2="722.5" y2="372.0" stroke="#e0e0e0" stroke-width="1" />
<line x1="722.5" y1="365.0" x2="761.7" y2="348.0" stroke="#e0e0e0" stroke-width="1" />
<line x1="695.0" y1="345.0" x2="722.5" y2="356.0" stroke="#ccc" stroke-width="0.8" />
<line x1="722.5" y1="356.0" x2="761.7" y2="339.0" stroke="#ccc" stroke-width="0.8" />
<rect x="720" y="292" width="18" height="40" fill="#4a4a4a" stroke="#333" stroke-width="0.6"/>
<ellipse cx="729" cy="292" rx="9" ry="3.5" fill="#d0d0d0" stroke="#444" stroke-width="0.6"/>
<rect x="722" y="325" width="14" height="12" fill="#777"/>
<polygon points="684.0,216.0 699.0,222.0 732.0,208.0 738.0,212.0 737.0,234.0 725.0,262.0 700.0,267.0 692.0,254.0 686.0,234.0" fill="#5a5a5a" stroke="#333" stroke-width="0.8" />
<path d="M690,224 Q699.0,243.0 702,266" fill="none" stroke="#2a2a2a" stroke-width="0.8"/>
<path d="M700,224 Q709.0,242.5 712,265" fill="none" stroke="#2a2a2a" stroke-width="0.8"/>
<path d="M710,220 Q720.0,239.0 724,262" fill="none" stroke="#2a2a2a" stroke-width="0.8"/>
<path d="M722,214 Q730.5,225.0 733,240" fill="none" stroke="#2a2a2a" stroke-width="0.8"/>
<path d="M686,232 Q714.5,225.0 737,222" fill="none" stroke="#2a2a2a" stroke-width="0.8"/>
<path d="M690,248 Q716.0,240.0 736,236" fill="none" stroke="#2a2a2a" stroke-width="0.8"/>
<polygon points="694.0,262.0 722.0,262.0 718.0,270.0 698.0,270.0" fill="#777" stroke="#444" stroke-width="0.5" />
<polygon points="662.0,187.0 694.3,173.3 731.6,189.5 699.3,200.7" fill="#ededed" stroke="#222" stroke-width="1" />
<line x1="672.8" y1="182.4" x2="710.1" y2="197.0" stroke="#222" stroke-width="1.2" />
<line x1="674.4" y1="191.6" x2="706.7" y2="178.7" stroke="#222" stroke-width="1.2" />
<line x1="683.5" y1="177.9" x2="720.8" y2="193.2" stroke="#222" stroke-width="1.2" />
<line x1="686.9" y1="196.1" x2="719.2" y2="184.1" stroke="#222" stroke-width="1.2" />
<polygon points="662.0,187.0 699.3,200.7 699.3,222.0 662.0,208.0" fill="#151515" stroke="#111" stroke-width="0.6" />
<polygon points="662.0,187.0 672.0,190.6 672.0,212.0 662.0,208.0" fill="#555" stroke="none" stroke-width="1" />
<polygon points="699.3,200.7 731.6,189.5 732.0,212.0 699.3,222.0" fill="#5a5a5a" stroke="#222" stroke-width="0.6" />
<line x1="716.0" y1="195.0" x2="716.0" y2="216.0" stroke="#333" stroke-width="0.6" />
<polygon points="735.0,287.0 757.0,272.0 792.0,287.0 770.0,305.0" fill="#e6e6e6" stroke="#555" stroke-width="0.7" />
<polygon points="735.0,287.0 770.0,305.0 770.0,310.0 735.0,292.0" fill="#6a6a6a" stroke="none" stroke-width="1" />
<polygon points="770.0,305.0 792.0,287.0 792.0,292.0 770.0,310.0" fill="#7a7a7a" stroke="none" stroke-width="1" />
<line x1="739.4" y1="284.0" x2="774.4" y2="301.4" stroke="#aaa" stroke-width="0.5" />
<line x1="743.8" y1="281.0" x2="778.8" y2="297.8" stroke="#aaa" stroke-width="0.5" />
<line x1="748.2" y1="278.0" x2="783.2" y2="294.2" stroke="#aaa" stroke-width="0.5" />
<line x1="752.6" y1="275.0" x2="787.6" y2="290.6" stroke="#aaa" stroke-width="0.5" />
<rect x="768.7" y="308" width="2.6" height="24" fill="#555"/>
<rect x="743.7" y="297" width="2.6" height="23" fill="#555"/>
<rect x="788.7" y="290" width="2.6" height="28" fill="#555"/>
<line x1="745.0" y1="312.0" x2="770.0" y2="324.0" stroke="#555" stroke-width="1.6" />
<path d="M742,214 C752,226 744,246 752,262 S760,282 762,292" fill="none" stroke="#bdbdbd" stroke-width="5"/>
<path d="M742,214 C752,226 744,246 752,262 S760,282 762,292" fill="none" stroke="#666" stroke-width="0.6"/>
<path d="M764,240 C760,252 768,262 764,280" fill="none" stroke="#c4c4c4" stroke-width="4"/>
<path d="M737,262 C733,272 742,282 740,292" fill="none" stroke="#c4c4c4" stroke-width="4"/>
<polygon points="752.0,218.0 786.0,222.0 781.0,238.0 766.0,240.0" fill="#6a6a6a" stroke="#333" stroke-width="0.7" />
<polygon points="796.0,212.0 813.0,205.0 812.0,222.0 802.0,232.0" fill="#707070" stroke="#333" stroke-width="0.7" />
<line x1="740.0" y1="216.0" x2="752.0" y2="240.0" stroke="#444" stroke-width="1.1" />
<line x1="774.0" y1="222.0" x2="772.0" y2="252.0" stroke="#444" stroke-width="1.1" />
<line x1="813.0" y1="205.0" x2="808.0" y2="240.0" stroke="#444" stroke-width="1.1" />
<line x1="756.0" y1="222.0" x2="790.0" y2="250.0" stroke="#444" stroke-width="1.1" />
<line x1="745.0" y1="235.0" x2="770.0" y2="250.0" stroke="#444" stroke-width="1.1" />
<line x1="790.0" y1="236.0" x2="815.0" y2="250.0" stroke="#444" stroke-width="1.1" />
<ellipse cx="806" cy="228" rx="9" ry="8" fill="#b0b0b0" stroke="#555" stroke-width="0.7"/>
<line x1="707.5" y1="136.0" x2="707.5" y2="186.0" stroke="#666" stroke-width="0.6" />
<line x1="713.3" y1="136.0" x2="713.3" y2="186.0" stroke="#666" stroke-width="0.6" />
<line x1="720.3" y1="136.0" x2="720.3" y2="186.0" stroke="#666" stroke-width="0.6" />
<line x1="727.3" y1="136.0" x2="727.3" y2="186.0" stroke="#666" stroke-width="0.6" />
<path d="M707,140 Q716,143 731,137" fill="none" stroke="#777" stroke-width="0.6"/>
<path d="M707,147 Q716,150 731,144" fill="none" stroke="#777" stroke-width="0.6"/>
<path d="M707,154 Q716,157 731,151" fill="none" stroke="#777" stroke-width="0.6"/>
<path d="M707,161 Q716,164 731,158" fill="none" stroke="#777" stroke-width="0.6"/>
<path d="M707,168 Q716,171 731,165" fill="none" stroke="#777" stroke-width="0.6"/>
<path d="M707,175 Q716,178 731,172" fill="none" stroke="#777" stroke-width="0.6"/>
<path d="M707,182 Q716,185 731,179" fill="none" stroke="#777" stroke-width="0.6"/>
<polyline points="707.0,136.0 716.0,130.0 731.0,133.0" fill="none" stroke="#555" stroke-width="0.7" />
<polygon points="731.6,126.1 773.9,143.5 773.9,221.8 734.1,214.4" fill="#767676" stroke="#222" stroke-width="1" />
<polygon points="773.9,143.5 813.7,126.1 813.7,204.4 773.9,221.8" fill="#686868" stroke="#222" stroke-width="1" />
<polygon points="731.6,126.1 772.7,107.4 813.7,126.1 773.9,143.5" fill="#f3f3f3" stroke="#222" stroke-width="1.2" />
<polygon points="791.0,112.0 812.0,105.5 821.0,109.5 821.0,117.0 800.0,123.5 791.0,119.5" fill="#dcdcdc" stroke="#555" stroke-width="0.7" />
<line x1="800.0" y1="116.0" x2="821.0" y2="109.5" stroke="#555" stroke-width="0.6" />
<line x1="736.0" y1="214.0" x2="752.0" y2="207.0" stroke="#555" stroke-width="8.5" />
<line x1="736.0" y1="214.0" x2="752.0" y2="207.0" stroke="#d0d0d0" stroke-width="7" />
<ellipse cx="752.5" cy="207" rx="3.5" ry="4.5" fill="#bbb" stroke="#555" stroke-width="0.6"/>
<rect x="823.7" y="182" width="17.3" height="39" fill="#8c8c8c" stroke="#444" stroke-width="0.7"/>
<rect x="826" y="162" width="12.6" height="20" fill="#7e7e7e" stroke="#444" stroke-width="0.7"/>
<ellipse cx="832.3" cy="162.5" rx="6.3" ry="2.2" fill="#bbb" stroke="#444" stroke-width="0.6"/>
<rect x="823.7" y="182" width="17.3" height="2.6" fill="#f0f0f0"/>
<rect x="825" y="186" width="4" height="34" fill="#a8a8a8"/>
<ellipse cx="832.3" cy="221" rx="11" ry="5" fill="#999" stroke="#555" stroke-width="0.6"/>
<polygon points="803.0,258.0 834.0,274.0 833.0,290.0 818.0,296.0 797.0,283.0" fill="#404040" stroke="#222" stroke-width="0.6" />
<line x1="805.0" y1="262.0" x2="830.0" y2="276.0" stroke="#888" stroke-width="0.8" />
<polyline points="751.0,268.0 788.0,286.0 831.0,268.0" fill="none" stroke="#2e2e2e" stroke-width="2.4" />
<polyline points="751.0,268.0 751.0,276.0 788.0,294.0 788.0,286.0" fill="none" stroke="#2e2e2e" stroke-width="1.6" />
<line x1="788.0" y1="286.0" x2="788.0" y2="302.0" stroke="#3a3a3a" stroke-width="2.6" />
<line x1="831.0" y1="268.0" x2="831.0" y2="300.0" stroke="#3a3a3a" stroke-width="2.6" />
<line x1="751.0" y1="268.0" x2="790.0" y2="250.0" stroke="#2e2e2e" stroke-width="1.8" />
<polygon points="768.7,251.0 792.0,257.5 790.0,283.0 769.5,277.0 765.5,266.0" fill="#e8e8e8" stroke="#555" stroke-width="0.7" />
<path d="M768.7,251 Q762,264 769.5,277" fill="#d6d6d6" stroke="#666" stroke-width="0.6"/>
<ellipse cx="793" cy="270.5" rx="9.5" ry="13" fill="#5a5a5a" stroke="#333" stroke-width="0.7"/>
<ellipse cx="795" cy="270.5" rx="3" ry="4" fill="#999"/>
<polygon points="804.4,256.6 956.7,104.3 960.8,106.7 808.5,259.0" fill="#cfcfcf" stroke="#444" stroke-width="0.7" />
<polygon points="808.5,259.0 960.8,106.7 975.9,115.6 823.6,267.9" fill="#363636" stroke="#222" stroke-width="0.6" />
<polygon points="823.6,267.9 975.9,115.6 977.5,116.5 825.2,268.8" fill="#d8d8d8" stroke="none" stroke-width="1" />
<polygon points="825.2,268.8 977.5,116.5 986.3,121.7 834.0,274.0" fill="#4e4e4e" stroke="#222" stroke-width="0.6" />
<polyline points="829.6,271.4 981.9,119.1" fill="none" stroke="#999" stroke-width="0.7" />
<line x1="811.0" y1="251.9" x2="812.7" y2="252.9" stroke="#777" stroke-width="1.2" />
<line x1="821.9" y1="241.0" x2="823.6" y2="242.0" stroke="#777" stroke-width="1.2" />
<line x1="832.8" y1="230.1" x2="834.4" y2="231.1" stroke="#777" stroke-width="1.2" />
<line x1="843.7" y1="219.3" x2="845.3" y2="220.2" stroke="#777" stroke-width="1.2" />
<line x1="854.6" y1="208.4" x2="856.2" y2="209.3" stroke="#777" stroke-width="1.2" />
<line x1="865.4" y1="197.5" x2="867.1" y2="198.5" stroke="#777" stroke-width="1.2" />
<line x1="876.3" y1="186.6" x2="878.0" y2="187.6" stroke="#777" stroke-width="1.2" />
<line x1="887.2" y1="175.7" x2="888.8" y2="176.7" stroke="#777" stroke-width="1.2" />
<line x1="898.1" y1="164.9" x2="899.7" y2="165.8" stroke="#777" stroke-width="1.2" />
<line x1="909.0" y1="154.0" x2="910.6" y2="154.9" stroke="#777" stroke-width="1.2" />
<line x1="919.8" y1="143.1" x2="921.5" y2="144.1" stroke="#777" stroke-width="1.2" />
<line x1="930.7" y1="132.2" x2="932.4" y2="133.2" stroke="#777" stroke-width="1.2" />
<line x1="941.6" y1="121.3" x2="943.2" y2="122.3" stroke="#777" stroke-width="1.2" />
<line x1="952.5" y1="110.5" x2="954.1" y2="111.4" stroke="#777" stroke-width="1.2" />
<polygon points="974.0,121.0 980.0,119.0 985.0,123.0 984.0,132.0 978.0,134.0 973.0,129.0" fill="#d5d5d5" stroke="#444" stroke-width="0.7" />
<polygon points="825.2,268.8 834.0,274.0 840.0,292.0 826.0,296.0" fill="#555" stroke="none" stroke-width="1" />
<rect x="936.4000000000001" y="172" width="2.6" height="52" fill="#3a3a3a"/>
<rect x="954.7" y="148" width="2.6" height="88" fill="#3a3a3a"/>
<line x1="936.7" y1="177.0" x2="957.0" y2="174.6" stroke="#3a3a3a" stroke-width="1.6" />
<line x1="936.7" y1="222.0" x2="957.0" y2="232.0" stroke="#3a3a3a" stroke-width="1.6" />
<polygon points="786.0,300.0 879.0,282.0 882.0,292.0 790.0,314.0" fill="#7a7a7a" stroke="#333" stroke-width="0.7" />
<line x1="788.0" y1="306.0" x2="880.0" y2="287.0" stroke="#e0e0e0" stroke-width="1" />
<line x1="789.0" y1="310.0" x2="881.0" y2="290.0" stroke="#444" stroke-width="0.7" />
<ellipse cx="878" cy="288" rx="4" ry="5" fill="#d8d8d8" stroke="#555" stroke-width="0.6"/>
<rect x="788.8" y="312" width="2.4" height="18" fill="#444"/>
<rect x="843.8" y="301" width="2.4" height="41" fill="#444"/>
<rect x="848.8" y="300" width="2.4" height="38" fill="#444"/>
<line x1="832.0" y1="310.0" x2="845.0" y2="340.0" stroke="#444" stroke-width="1.5" />
<rect x="855.2" y="340" width="3.6" height="16" fill="#555"/>
<rect x="876.2" y="350" width="3.6" height="15" fill="#555"/>
<rect x="892.6" y="360" width="3.6" height="14" fill="#555"/>
<rect x="916.2" y="370" width="3.6" height="16" fill="#555"/>
<polyline points="855.0,343.0 920.0,376.0" fill="none" stroke="#666" stroke-width="3" />
<line x1="855.0" y1="343.0" x2="920.0" y2="376.0" stroke="#ddd" stroke-width="0.8" />
<polygon points="858.0,303.0 880.0,293.0 946.0,328.0 922.0,335.0" fill="#5e5e5e" stroke="#222" stroke-width="0.7" />
<polygon points="862.0,300.0 880.0,292.0 902.0,303.0 884.0,312.0" fill="#6a6a6a" stroke="#333" stroke-width="0.6" />
<polygon points="891.0,320.0 909.0,313.0 922.0,321.0 904.0,329.0" fill="#0e0e0e" stroke="none" stroke-width="1" />
<polygon points="858.0,303.0 922.0,335.0 922.0,362.0 857.0,333.0" fill="#4a4a4a" stroke="#222" stroke-width="0.7" />
<polygon points="922.0,335.0 946.0,328.0 946.0,356.0 922.0,362.0" fill="#555" stroke="#222" stroke-width="0.7" />
<rect x="865" y="332" width="14" height="6" rx="2.5" transform="rotate(-32 872 335)" fill="#c8c8c8" stroke="#555" stroke-width="0.6"/>
<line x1="867" y1="335" x2="877" y2="335" transform="rotate(-32 872 335)" stroke="#888" stroke-width="0.8"/>
<rect x="889" y="344" width="14" height="6" rx="2.5" transform="rotate(-32 896 347)" fill="#c8c8c8" stroke="#555" stroke-width="0.6"/>
<line x1="891" y1="347" x2="901" y2="347" transform="rotate(-32 896 347)" stroke="#888" stroke-width="0.8"/>
<rect x="977.7" y="366" width="2.6" height="41" fill="#444"/>
<rect x="992.7" y="363" width="2.6" height="41" fill="#444"/>
<rect x="938.7" y="378" width="2.6" height="14" fill="#444"/>
<line x1="979.0" y1="385.0" x2="994.0" y2="382.0" stroke="#444" stroke-width="1.5" />
<line x1="979.0" y1="402.0" x2="994.0" y2="399.0" stroke="#444" stroke-width="1.5" />
<line x1="965.0" y1="372.0" x2="979.0" y2="400.0" stroke="#444" stroke-width="1.5" />
<polygon points="925.0,369.0 1011.0,357.0 1013.0,364.0 927.0,380.0" fill="#7a7a7a" stroke="#333" stroke-width="0.7" />
<line x1="926.0" y1="373.0" x2="1011.0" y2="360.0" stroke="#e0e0e0" stroke-width="1" />
<line x1="926.0" y1="377.0" x2="1012.0" y2="362.5" stroke="#444" stroke-width="0.6" />
<ellipse cx="1009" cy="360.5" rx="4" ry="4" fill="#d8d8d8" stroke="#555" stroke-width="0.6"/>
<rect x="991.7" y="300" width="2.6" height="31" fill="#444"/>
<rect x="1003.7" y="292" width="2.6" height="44" fill="#444"/>
<rect x="1032.5" y="300" width="2.6" height="34" fill="#444"/>
<rect x="1089.7" y="300" width="2.6" height="42" fill="#444"/>
<rect x="1102.7" y="298" width="2.6" height="40.5" fill="#444"/>
<rect x="1123.0" y="288" width="2.6" height="40" fill="#444"/>
<rect x="1135.9" y="286" width="2.6" height="37.39999999999998" fill="#444"/>
<line x1="993.0" y1="305.0" x2="1033.8" y2="318.0" stroke="#444" stroke-width="1.6" />
<line x1="1005.0" y1="296.0" x2="1033.8" y2="304.0" stroke="#444" stroke-width="1.6" />
<line x1="1005.0" y1="318.0" x2="1033.8" y2="330.0" stroke="#444" stroke-width="1.6" />
<line x1="993.0" y1="328.0" x2="1005.0" y2="332.0" stroke="#444" stroke-width="1.6" />
<line x1="1091.0" y1="322.0" x2="1104.0" y2="318.0" stroke="#444" stroke-width="1.6" />
<line x1="1124.3" y1="308.0" x2="1137.2" y2="305.0" stroke="#444" stroke-width="1.6" />
<line x1="1091.0" y1="339.0" x2="1104.0" y2="336.0" stroke="#444" stroke-width="1.6" />
<line x1="1124.3" y1="325.0" x2="1137.2" y2="321.0" stroke="#444" stroke-width="1.6" />
<line x1="1080.0" y1="308.0" x2="1091.0" y2="330.0" stroke="#444" stroke-width="1.6" />
<line x1="1112.0" y1="296.0" x2="1124.3" y2="318.0" stroke="#444" stroke-width="1.6" />
<line x1="1033.8" y1="322.0" x2="1075.0" y2="312.0" stroke="#444" stroke-width="1.6" />
<polygon points="1071.0,288.0 1154.0,273.0 1157.0,281.0 1073.0,296.0" fill="#8a8a8a" stroke="#3a3a3a" stroke-width="0.8" />
<line x1="1072.0" y1="291.0" x2="1155.0" y2="276.0" stroke="#e4e4e4" stroke-width="1.2" />
<line x1="1072.0" y1="293.5" x2="1156.0" y2="278.5" stroke="#555" stroke-width="0.8" />
<ellipse cx="1153" cy="278" rx="4" ry="5" fill="#d8d8d8" stroke="#555" stroke-width="0.6"/>
<polygon points="1033.0,299.0 1119.0,289.0 1121.0,298.0 1035.0,309.0" fill="#858585" stroke="#3a3a3a" stroke-width="0.8" />
<line x1="1034.0" y1="302.5" x2="1120.0" y2="292.5" stroke="#e4e4e4" stroke-width="1.2" />
<line x1="1034.0" y1="305.5" x2="1120.0" y2="295.5" stroke="#555" stroke-width="0.8" />
<ellipse cx="1117" cy="294" rx="4" ry="5" fill="#d8d8d8" stroke="#555" stroke-width="0.6"/>
<polygon points="925.0,352.0 1003.5,250.0 1010.1,250.0 931.6,352.0" fill="#5a5a5a" stroke="#333" stroke-width="0.6" />
<polygon points="931.6,352.0 1010.1,250.0 1022.1,250.0 943.6,352.0" fill="#ececec" stroke="#333" stroke-width="0.6" />
<polygon points="943.6,352.0 1022.1,250.0 1035.5,250.0 957.0,352.0" fill="#505050" stroke="#333" stroke-width="0.6" />
<line x1="934.8" y1="347.8" x2="946.1" y2="346.8" stroke="#555" stroke-width="1" />
<line x1="941.4" y1="339.2" x2="952.6" y2="338.2" stroke="#555" stroke-width="1" />
<line x1="947.9" y1="330.8" x2="959.2" y2="329.8" stroke="#555" stroke-width="1" />
<line x1="954.5" y1="322.2" x2="965.7" y2="321.2" stroke="#555" stroke-width="1" />
<line x1="961.0" y1="313.8" x2="972.2" y2="312.8" stroke="#555" stroke-width="1" />
<line x1="967.6" y1="305.2" x2="978.8" y2="304.2" stroke="#555" stroke-width="1" />
<line x1="974.1" y1="296.8" x2="985.3" y2="295.8" stroke="#555" stroke-width="1" />
<line x1="980.6" y1="288.2" x2="991.9" y2="287.2" stroke="#555" stroke-width="1" />
<line x1="987.2" y1="279.8" x2="998.4" y2="278.8" stroke="#555" stroke-width="1" />
<line x1="993.7" y1="271.2" x2="1005.0" y2="270.2" stroke="#555" stroke-width="1" />
<line x1="1000.3" y1="262.8" x2="1011.5" y2="261.8" stroke="#555" stroke-width="1" />
<line x1="1006.8" y1="254.2" x2="1018.1" y2="253.2" stroke="#555" stroke-width="1" />
<line x1="950.0" y1="352.0" x2="1028.5" y2="250.0" stroke="#bbb" stroke-width="0.7" />
<polygon points="1041.0,273.5 1109.3,244.4 1109.3,271.7 1041.0,299.0" fill="#7a7a7a" stroke="#222" stroke-width="0.8" />
<line x1="1058.0" y1="266.3" x2="1058.0" y2="292.2" stroke="#222" stroke-width="1.2" />
<line x1="1075.2" y1="258.9" x2="1075.2" y2="285.3" stroke="#222" stroke-width="1.2" />
<line x1="1093.1" y1="251.3" x2="1093.1" y2="278.2" stroke="#222" stroke-width="1.2" />
<polygon points="1109.3,254.7 1119.6,258.0 1119.6,264.0 1109.3,268.0" fill="#888" stroke="#444" stroke-width="0.5" />
<path d="M1015.4,248.7 L1083.7,217.1 Q1100,219 1105,230 L1109.3,244.4 L1041,273.5 Q1038,258 1026,252 Z" fill="#f6f6f6" stroke="#333" stroke-width="0.8"/>
<line x1="1015.4" y1="248.7" x2="1083.7" y2="217.1" stroke="#555" stroke-width="0.9" />
<path d="M1037.6,238.4 Q1054.4,246.95 1063.2,267.5" fill="none" stroke="#222" stroke-width="1.6"/>
<path d="M1060.6,227.3 Q1077.4499999999998,235.85 1086.3,256.4" fill="none" stroke="#222" stroke-width="1.6"/>
<path d="M1083.7,217.1 Q1098.35,218.55 1105,232" fill="none" stroke="#222" stroke-width="1.6"/>
<line x1="1030.0" y1="255.0" x2="1105.0" y2="236.0" stroke="#9ab" stroke-width="0.5" />
<ellipse cx="1025.5" cy="271" rx="14.5" ry="21.5" fill="#8e8e8e" stroke="#2a2a2a" stroke-width="3.4"/>
<ellipse cx="1026.5" cy="271.5" rx="9" ry="15" fill="#a6a6a6" stroke="#444" stroke-width="1.2"/>
<line x1="1017.5" y1="271.5" x2="1035.5" y2="271.5" stroke="#666" stroke-width="0.7" />
<line x1="1018.7" y1="264.0" x2="1034.3" y2="279.0" stroke="#666" stroke-width="0.7" />
<line x1="1022.0" y1="258.5" x2="1031.0" y2="284.5" stroke="#666" stroke-width="0.7" />
<line x1="1026.5" y1="256.5" x2="1026.5" y2="286.5" stroke="#666" stroke-width="0.7" />
<line x1="1031.0" y1="258.5" x2="1022.0" y2="284.5" stroke="#666" stroke-width="0.7" />
<line x1="1034.3" y1="264.0" x2="1018.7" y2="279.0" stroke="#666" stroke-width="0.7" />
</g>
<g id="labels" font-family="Liberation Sans, sans-serif">
<text class="t" textLength="65" lengthAdjust="spacingAndGlyphs" x="4" y="334.5">金属输送带</text>
<text class="s" textLength="112" lengthAdjust="spacing" x="10" y="353.3">严酷工作环境下输送物料</text>
<text class="t" textLength="65" lengthAdjust="spacingAndGlyphs" x="199.5" y="240">双轴撕碎机</text>
<text class="s" textLength="217.6" lengthAdjust="spacing" x="213" y="262">将物料破碎到长约 400mm, 宽约 100mm 的碎片</text>
<text class="t" textLength="65" lengthAdjust="spacingAndGlyphs" x="403" y="66">立式破碎机</text>
<text class="s" textLength="175" lengthAdjust="spacing" x="419.5" y="85.5">将物料破碎到直径 50-80mm 球状块，</text>
<text class="s" textLength="193" lengthAdjust="spacing" x="399" y="103.5">同时清洁金属表面，将不同材质的金属相互</text>
<text class="s" textLength="141" lengthAdjust="spacing" x="399" y="121">剥离，以便后续设备的物料分选</text>
<text class="t" textLength="78" lengthAdjust="spacingAndGlyphs" x="550" y="11.7">中央除尘系统</text>
<text class="s" textLength="223" lengthAdjust="spacing" x="571" y="27.5">中央除尘系统通过管道收集破碎过程中产生的灰尘</text>
<text class="t" textLength="65" lengthAdjust="spacingAndGlyphs" x="941.2" y="23.4">橡胶输送带</text>
<text class="s" textLength="71.5" lengthAdjust="spacing" x="951.5" y="43">将铁质物料收集</text>
<text class="t" textLength="52" lengthAdjust="spacingAndGlyphs" x="1054.5" y="104.2">分选滚筒</text>
<text class="s" textLength="102.5" lengthAdjust="spacing" x="1065.3" y="120.3">分选出不同尺寸的杂料</text>
<text class="t" textLength="91" lengthAdjust="spacingAndGlyphs" x="636.5" y="464.3">磁选滚筒分选机</text>
<text class="s" textLength="142.5" lengthAdjust="spacing" x="650.6" y="483.5">将铁质物料从非铁质物料中分离</text>
<text class="t" textLength="78" lengthAdjust="spacingAndGlyphs" x="914" y="465.6">涡电流分选机</text>
<text class="s" textLength="110" lengthAdjust="spacing" x="931.6" y="486.4">将非铁物料，如铝和铜等</text>
</g>
<g id="bullets" class="b">
<path d="M2,347.5 L4,350 L2,352.5 L0,350Z"/>
<path d="M201.6,257 L203.6,259.4 L201.6,261.8 L199.6,259.4Z"/>
<path d="M404.7,80 L406.7,82.4 L404.7,84.8 L402.7,82.4Z"/>
<path d="M564.2,22 L566.2,24.4 L564.2,26.8 L562.2,24.4Z"/>
<path d="M943.6,37.2 L945.6,39.6 L943.6,42 L941.6,39.6Z"/>
<path d="M1057.7,114.1 L1059.7,116.5 L1057.7,118.9 L1055.7,116.5Z"/>
<path d="M642.7,478.3 L644.7,480.7 L642.7,483.1 L640.7,480.7Z"/>
<path d="M915.4,479.2 L917.4,481.6 L915.4,484 L913.4,481.6Z"/>
</g>
<g id="leaders" class="ld">
<polyline stroke="#a83048" points="121.4,364.3 185.4,364.3 235.1,414.9"/>
<polyline stroke="#d02048" points="327,280.9 393.8,280.9 448,334.6"/>
<polyline stroke="#a02848" points="551.6,123.6 619,123.6 670.4,175"/>
<polyline stroke="#b02444" points="635.5,49.7 701,49.7 751.3,99.8"/>
<polyline stroke="#d61a34" points="1005.3,49.6 930.3,49.6 916.3,134"/>
<polyline stroke="#d41a30" points="1157.4,130.4 1091.5,130.4 1079,223.6"/>
<polyline stroke="#e0141e" points="707.6,444.7 776.6,444.7 776.9,288"/>
<polyline stroke="#f01818" points="986.2,444.9 920.6,444.9 921.8,342"/>
</g>
<g id="dots" fill="#e0102a">
<circle cx="246.6" cy="425.8" r="3.2"/>
<circle cx="457.2" cy="347.7" r="3.2"/>
<circle cx="678.8" cy="182.9" r="3.2"/>
<circle cx="762.3" cy="117" r="3.2"/>
<circle cx="916.8" cy="147.2" r="3.2"/>
<circle cx="1079.7" cy="236" r="3.2"/>
<circle cx="775.5" cy="272" r="3.2"/>
<circle cx="921.3" cy="327.7" r="3.2"/>
</g>

</svg>
</body></html>
